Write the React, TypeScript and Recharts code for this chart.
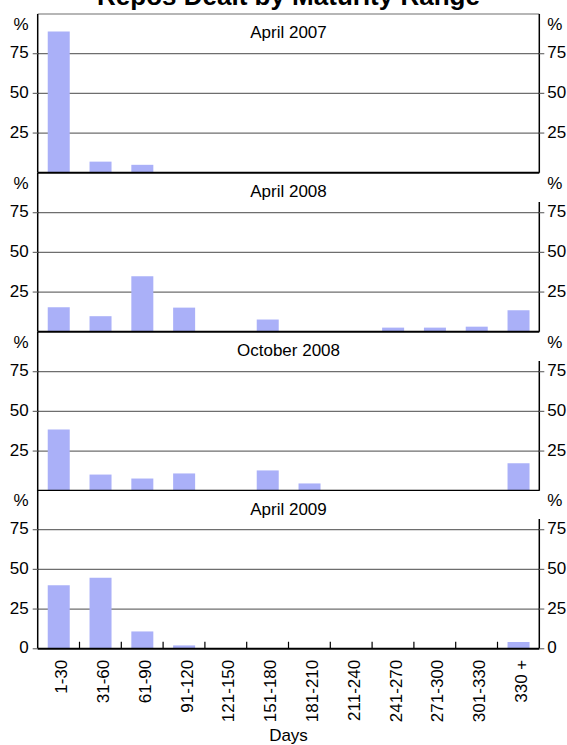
import { BarChart, Bar, XAxis, YAxis, CartesianGrid } from 'recharts';

// maturity buckets (days)
const ranges = ['1-30', '31-60', '61-90', '91-120', '121-150', '151-180', '181-210', '211-240', '241-270', '271-300', '301-330', '330 +'];

// share of repos in each bucket, %
const apr2007 = [89, 7, 5, 0, 0, 0, 0, 0, 0, 0, 0, 0];
const apr2008 = [15.5, 9.8, 35, 15.2, 0, 7.7, 0, 0, 2.6, 2.6, 3.2, 13.5];
const oct2008 = [38.6, 10.2, 7.7, 10.9, 0, 12.8, 4.6, 0, 0, 0, 0, 17.4];
const apr2009 = [40, 44.7, 10.9, 2.1, 0, 0, 0, 0, 0, 0, 0, 4.2];

const panelTitles = ['April 2007', 'April 2008', 'October 2008', 'April 2009'];
const panelValues = [apr2007, apr2008, oct2008, apr2009];

const yTicks = [25, 50, 75];
const PCT_TICK = 93; // where the "%" unit label sits

const FONT = 'Arial, "Liberation Sans", sans-serif';
const W = 567;
const H = 745;
const PLOT_LEFT = 37.7;
const PLOT_RIGHT = 539.3;
const PLOT_H = 158.75;
const FIRST_TOP = 14;
const TOP_PAD = 10;
const BAND = (PLOT_RIGHT - PLOT_LEFT) / ranges.length;
const GRID = '#6e6e6e';
const BAR = '#aab0f8';

const LeftTick = ({ x, y, payload }: any) => {
  const pct = payload.value === PCT_TICK;
  return (
    <g>
      {!pct && <line x1={x - 5} x2={x} y1={y} y2={y} stroke={GRID} strokeWidth={1.2} />}
      <text x={x - 9} y={y - 1.5} dy="0.36em" textAnchor="end" fontSize={17} fontFamily={FONT} fill="#000">
        {pct ? '%' : payload.value}
      </text>
    </g>
  );
};

const RightTick = ({ x, y, payload }: any) => {
  const pct = payload.value === PCT_TICK;
  return (
    <g>
      {!pct && <line x1={x} x2={x + 5} y1={y} y2={y} stroke={GRID} strokeWidth={1.2} />}
      <text x={x + 8} y={y - 1.5} dy="0.36em" textAnchor="start" fontSize={17} fontFamily={FONT} fill="#000">
        {pct ? '%' : payload.value}
      </text>
    </g>
  );
};

const DaysTick = ({ x, y, payload, index }: any) => (
  <g>
    {index < ranges.length - 1 && (
      <line x1={x + BAND / 2} x2={x + BAND / 2} y1={y} y2={y - 7} stroke="#000" strokeWidth={1.2} />
    )}
    <text
      transform={`translate(${x + 3},${y + 11}) rotate(-90)`}
      textAnchor="end"
      dominantBaseline="central"
      fontSize={17}
      fontFamily={FONT}
      fill="#000"
    >
      {payload.value}
    </text>
  </g>
);

function Panel({ index }: { index: number }) {
  const last = index === panelValues.length - 1;
  const plotTop = FIRST_TOP + index * PLOT_H;
  const data = ranges.map((r, i) => ({ range: r, value: panelValues[index][i] }));
  const xAxisH = last ? H - plotTop - PLOT_H : 1;
  const chartH = TOP_PAD + PLOT_H + xAxisH;
  const ticks = last ? [0, ...yTicks, PCT_TICK] : [...yTicks, PCT_TICK];

  return (
    <div style={{ position: 'absolute', left: 0, top: plotTop - TOP_PAD }}>
      <BarChart
        width={W}
        height={chartH}
        data={data}
        margin={{ top: TOP_PAD, right: W - PLOT_RIGHT - 20, left: PLOT_LEFT - 30, bottom: 0 }}
        barCategoryGap="24%"
      >
        <CartesianGrid
          vertical={false}
          stroke={GRID}
          strokeWidth={1.2}
          horizontalValues={index === 0 ? [...yTicks, 100] : yTicks}
        />
        <XAxis
          dataKey="range"
          height={xAxisH}
          interval={0}
          tickLine={false}
          tickSize={0}
          tickMargin={0}
          tick={last ? <DaysTick /> : false}
          axisLine={{ stroke: '#000', strokeWidth: 2 }}
          label={last ? { value: 'Days', position: 'insideBottom', offset: 4, fontSize: 17, fontFamily: FONT, fill: '#000' } : undefined}
        />
        <YAxis
          width={30}
          domain={[0, 100]}
          ticks={ticks}
          interval={0}
          tickLine={false}
          tickSize={0}
          tickMargin={0}
          tick={<LeftTick />}
          axisLine={{ stroke: '#000', strokeWidth: 1.5 }}
        />
        <YAxis
          yAxisId="r"
          orientation="right"
          width={20}
          type="number"
          domain={[0, 100]}
          allowDataOverflow
          ticks={ticks}
          interval={0}
          tickLine={false}
          tickSize={0}
          tickMargin={0}
          tick={<RightTick />}
          axisLine={{ stroke: '#000', strokeWidth: 1.5, strokeDasharray: index === 0 ? undefined : '0 29 400' }}
        />
        <Bar dataKey="value" fill={BAR} isAnimationActive={false} />
      </BarChart>
    </div>
  );
}

export default function App() {
  const center = (PLOT_LEFT + PLOT_RIGHT) / 2;
  return (
    <div style={{ position: 'absolute', left: 0, top: 0, width: W, height: H, background: '#fff', fontFamily: FONT }}>
      {panelTitles.map((_, i) => (
        <Panel key={i} index={i} />
      ))}
      <svg width={W} height={H} style={{ position: 'absolute', left: 0, top: 0, pointerEvents: 'none' }}>
        <text x={center} y={5} textAnchor="middle" fontSize={26} fontWeight="bold" fontFamily={FONT} fill="#000">
          Repos Dealt by Maturity Range
        </text>
        {panelTitles.map((t, i) => (
          <text key={t} x={center} y={FIRST_TOP + i * PLOT_H + 24.3} textAnchor="middle" fontSize={17} fontFamily={FONT} fill="#000">
            {t}
          </text>
        ))}
      </svg>
    </div>
  );
}
